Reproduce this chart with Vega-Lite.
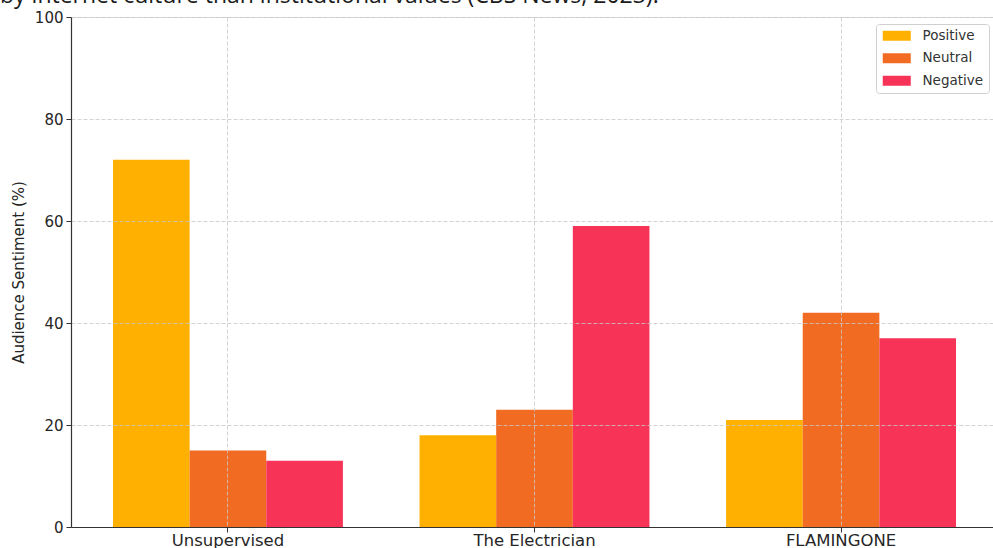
{
  "$schema": "https://vega.github.io/schema/vega-lite/v6.json",
  "autosize": {"type": "none"},
  "padding": {"left": 71, "top": 17, "right": 0, "bottom": 21},
  "width": 927,
  "height": 510,
  "background": "white",
  "title": {
    "text": "by internet culture than institutional values (CBS News, 2023).",
    "anchor": "start",
    "frame": "group",
    "font": "Open Sans",
    "fontSize": 23,
    "fontWeight": "normal",
    "color": "#1a1a1a",
    "baseline": "alphabetic",
    "offset": 6,
    "dx": -71,
    "dy": 22
  },
  "data": {
    "values": [
      {"film": "Unsupervised", "sentiment": "Positive", "value": 72},
      {"film": "Unsupervised", "sentiment": "Neutral", "value": 15},
      {"film": "Unsupervised", "sentiment": "Negative", "value": 13},
      {"film": "The Electrician", "sentiment": "Positive", "value": 18},
      {"film": "The Electrician", "sentiment": "Neutral", "value": 23},
      {"film": "The Electrician", "sentiment": "Negative", "value": 59},
      {"film": "FLAMINGONE", "sentiment": "Positive", "value": 21},
      {"film": "FLAMINGONE", "sentiment": "Neutral", "value": 42},
      {"film": "FLAMINGONE", "sentiment": "Negative", "value": 37}
    ]
  },
  "mark": {"type": "bar"},
  "encoding": {
    "x": {
      "field": "film",
      "type": "nominal",
      "sort": ["Unsupervised", "The Electrician", "FLAMINGONE"],
      "scale": {"paddingInner": 0.25, "paddingOuter": 0.137},
      "axis": {
        "title": null,
        "labelAngle": 0,
        "labelFont": "DejaVu Sans",
        "labelFontSize": 16.5,
        "labelColor": "#262626",
        "labelPadding": 0,
        "tickSize": 5,
        "tickColor": "#333333",
        "domainColor": "#333333",
        "domainWidth": 1.2,
        "grid": true,
        "gridColor": "#c8c8c8",
        "gridDash": [4, 2],
        "gridOpacity": 0.8,
        "zindex": 1
      }
    },
    "xOffset": {
      "field": "sentiment",
      "type": "nominal",
      "sort": ["Positive", "Neutral", "Negative"],
      "scale": {"paddingInner": 0, "paddingOuter": 0}
    },
    "y": {
      "field": "value",
      "type": "quantitative",
      "scale": {"domain": [0, 100], "nice": false},
      "axis": {
        "title": "Audience Sentiment (%)",
        "titleFont": "DejaVu Sans",
        "titleFontSize": 15,
        "titleFontWeight": "normal",
        "titleColor": "#262626",
        "titlePadding": 8,
        "values": [0, 20, 40, 60, 80, 100],
        "labelFont": "DejaVu Sans",
        "labelFontSize": 15,
        "labelColor": "#262626",
        "labelPadding": 3,
        "tickSize": 5,
        "tickColor": "#333333",
        "domainColor": "#333333",
        "domainWidth": 1.2,
        "grid": true,
        "gridColor": "#c8c8c8",
        "gridDash": [4, 2],
        "gridOpacity": 0.8,
        "zindex": 1
      }
    },
    "color": {
      "field": "sentiment",
      "type": "nominal",
      "sort": ["Positive", "Neutral", "Negative"],
      "scale": {
        "domain": ["Positive", "Neutral", "Negative"],
        "range": ["#FFB000", "#F26B22", "#F73357"]
      },
      "legend": {
        "title": null,
        "orient": "none",
        "legendX": 805,
        "legendY": 7,
        "padding": 5,
        "fillColor": "white",
        "strokeColor": "#d0d0d0",
        "cornerRadius": 3,
        "symbolType": "M-1,-1H4.6V1H-1Z",
        "symbolSize": 100,
        "symbolStrokeWidth": 0,
        "symbolOpacity": 1,
        "labelFont": "DejaVu Sans",
        "labelFontSize": 13.5,
        "labelColor": "#333333",
        "labelOffset": 28,
        "rowPadding": 7.5
      }
    }
  }
}
